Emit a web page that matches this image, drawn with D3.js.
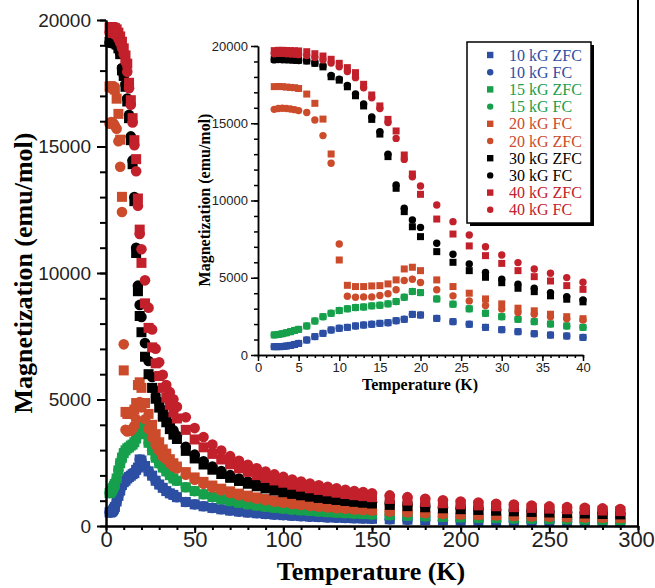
<!DOCTYPE html>
<html>
<head>
<meta charset="utf-8">
<script src="https://cdn.jsdelivr.net/npm/d3@7"></script>
<style>
  body { margin: 0; background: #fff; }
  svg { display: block; font-family: "Liberation Serif", "Times New Roman", serif; }
</style>
</head>
<body>
<script>
// temperatures (K); the inset shows the first 32 points (up to 40 K)
const temps = [2, 2.5, 3, 3.5, 4, 4.5, 5, 6, 7, 8, 9, 10, 11, 12, 13, 14, 15, 16, 17, 18, 19, 20,
  22, 24, 26, 28, 30, 32, 34, 36, 38, 40,
  45, 50, 55, 60, 65, 70, 75, 80, 85, 90, 95, 100, 105, 110, 115, 120, 125, 130, 135, 140, 145, 150,
  160, 170, 180, 190, 200, 210, 220, 230, 240, 250, 260, 270, 280, 290]
const insetCount = 32

// magnetization (emu/mol)
// 10 kG and 15 kG: ZFC and FC lie on top of each other
const m10 = [540, 540, 550, 580, 620, 680, 750, 970, 1190, 1400, 1620, 1730, 1790, 1880, 1940, 1990, 2050, 2090, 2220, 2310, 2630, 2590,
  2370, 2160, 1990, 1790, 1640, 1510, 1380, 1290, 1230, 1140,
  950, 855, 780, 715, 660, 610, 570, 535, 505, 475, 450, 430, 405, 390, 370, 355, 340, 330, 315, 305, 295, 285,
  265, 250, 235, 225, 215, 205, 195, 185, 180, 170, 165, 160, 155, 150]
const m15 = [1300, 1330, 1380, 1440, 1510, 1590, 1660, 1880, 2200, 2480, 2700, 2880, 2990, 3070, 3110, 3180, 3220, 3310, 3460, 3740, 4110, 4040,
  3630, 3290, 2990, 2700, 2480, 2310, 2160, 2010, 1880, 1790,
  1530, 1380, 1255, 1150, 1060, 985, 920, 860, 810, 765, 725, 690, 655, 625, 600, 575, 550, 530, 510, 495, 475, 460,
  430, 405, 385, 365, 345, 330, 315, 300, 290, 275, 265, 255, 245, 240]
const m20fc = [17370, 17380, 17370, 17340, 17320, 17300, 17250, 16890, 16290, 15270, 13010, 6150, 4510, 4430, 4430, 4470, 4490, 4600, 4860, 5570, 5680, 5460,
  4860, 4430, 4000, 3630, 3310, 3030, 2860, 2640, 2480, 2350,
  2130, 1920, 1745, 1600, 1475, 1370, 1280, 1200, 1130, 1065, 1010, 960, 915, 870, 835, 800, 770, 740, 710, 685, 660, 640,
  600, 565, 535, 505, 480, 455, 435, 415, 400, 385, 370, 355, 345, 330]
const m20zfc = [15900, 15950, 15970, 15950, 15920, 15880, 15820, 15700, 15210, 14200, 12410, 7180, 3800, 3740, 3760, 3760, 3850, 3960, 4220, 4820, 4900, 4690,
  4220, 3830, 3500, 3200, 2970, 2750, 2640, 2480, 2350, 2270,
  2030, 1830, 1665, 1525, 1410, 1305, 1220, 1145, 1075, 1015, 965, 915, 870, 830, 795, 760, 730, 705, 680, 655, 630, 610,
  570, 540, 510, 480, 455, 435, 415, 400, 380, 365, 350, 340, 325, 315]
const m30zfc = [19140, 19150, 19140, 19130, 19120, 19100, 19080, 19030, 18880, 18650, 18010, 17790, 17360, 16780, 16120, 15250, 14300, 12840, 10790, 9280, 8300, 7660,
  6690, 6000, 5460, 5030, 4680, 4320, 4100, 3830, 3610, 3440,
  2970, 2670, 2430, 2225, 2055, 1905, 1780, 1670, 1570, 1485, 1405, 1335, 1270, 1215, 1160, 1110, 1070, 1030, 990, 955, 920, 890,
  835, 785, 740, 700, 665, 635, 605, 580, 555, 535, 515, 495, 475, 460]
const m30fc = [19100, 19120, 19110, 19100, 19090, 19070, 19060, 19050, 18900, 18700, 18100, 17850, 17450, 16900, 16250, 15400, 14450, 13000, 11000, 9500, 8740, 8260,
  7230, 6520, 5890, 5350, 4900, 4580, 4320, 4040, 3780, 3570,
  3130, 2820, 2560, 2350, 2170, 2010, 1880, 1760, 1660, 1570, 1480, 1410, 1340, 1280, 1225, 1175, 1130, 1085, 1045, 1005, 970, 940,
  880, 830, 785, 740, 705, 670, 640, 615, 590, 565, 545, 525, 505, 485]
const m40zfc = [19700, 19720, 19720, 19710, 19700, 19690, 19680, 19630, 19500, 19350, 19140, 18880, 18600, 18275, 17520, 16830, 16120, 15250, 14500, 12945, 11715, 10400,
  8800, 7830, 7060, 6430, 5930, 5460, 5070, 4790, 4490, 4250,
  3800, 3420, 3110, 2850, 2630, 2440, 2280, 2140, 2010, 1900, 1800, 1710, 1630, 1555, 1490, 1425, 1370, 1315, 1265, 1220, 1180, 1140,
  1070, 1005, 950, 900, 855, 815, 780, 745, 715, 685, 660, 635, 610, 590]
const m40fc = [19500, 19520, 19520, 19500, 19480, 19460, 19440, 19380, 19250, 19100, 18900, 18650, 18350, 17950, 17300, 16650, 15950, 15050, 14020, 12660, 11540, 10940,
  9710, 8630, 7770, 7010, 6470, 5980, 5570, 5290, 5010, 4710,
  4300, 3870, 3520, 3220, 2980, 2760, 2580, 2420, 2280, 2150, 2040, 1940, 1840, 1760, 1680, 1610, 1550, 1490, 1430, 1380, 1340, 1290,
  1210, 1140, 1075, 1020, 970, 925, 880, 845, 810, 775, 745, 720, 695, 670]

const labels = ['10 kG ZFC', '10 kG FC', '15 kG ZFC', '15 kG FC', '20 kG FC', '20 kG ZFC', '30 kG ZFC', '30 kG FC', '40 kG ZFC', '40 kG FC']
const values = [m10, m10, m15, m15, m20fc, m20zfc, m30zfc, m30fc, m40zfc, m40fc]
const shapes = ['square', 'circle', 'square', 'circle', 'square', 'circle', 'square', 'circle', 'square', 'circle']
const colors = ['#2c4ea3', '#2c4ea3', '#17a04c', '#17a04c', '#cb4b2b', '#cb4b2b', '#000000', '#000000', '#c2202b', '#c2202b']

const series = labels.map((label, i) => ({
  label: label,
  shape: shapes[i],
  color: colors[i],
  points: temps.map((t, j) => ({ t: t, m: values[i][j] }))
}))

const svg = d3.select('body').append('svg')
  .attr('width', 655)
  .attr('height', 588)

function styleAxis(g, lw, fontSize) {
  g.select('.domain').attr('stroke', '#000').attr('stroke-width', lw)
  g.selectAll('.tick line').attr('stroke', '#000').attr('stroke-width', lw)
  g.selectAll('.tick text').attr('fill', '#222').style('font-size', fontSize + 'px')
}

function drawMarkers(g, x, y, n, sq, r) {
  series.forEach(s => {
    let pts = s.points.slice(0, n)
    let sel = g.append('g')
    if (s.shape === 'square') {
      sel.selectAll('rect').data(pts).join('rect')
        .attr('x', d => x(d.t) - sq / 2)
        .attr('y', d => y(d.m) - sq / 2)
        .attr('width', sq)
        .attr('height', sq)
        .attr('fill', s.color)
    } else {
      sel.selectAll('circle').data(pts).join('circle')
        .attr('cx', d => x(d.t))
        .attr('cy', d => y(d.m))
        .attr('r', r)
        .attr('fill', s.color)
    }
  })
}

// ---- main plot ----
let x = d3.scaleLinear().domain([0, 300]).range([106, 638])
let y = d3.scaleLinear().domain([0, 20000]).range([526, 20])

drawMarkers(svg.append('g'), x, y, temps.length, 10, 5.3)

svg.append('g')
  .attr('transform', 'translate(0,526)')
  .call(d3.axisBottom(x).tickValues(d3.range(0, 301, 10)).tickSize(4).tickSizeOuter(0).tickFormat(''))
  .call(g => styleAxis(g, 2, 22))
svg.append('g')
  .attr('transform', 'translate(0,526)')
  .call(d3.axisBottom(x).tickValues(d3.range(0, 301, 50)).tickSize(7).tickSizeOuter(0).tickPadding(-2))
  .call(g => styleAxis(g, 2, 22))
  .call(g => g.selectAll('.tick text').filter(d => d === 300).attr('dx', -2))

svg.append('g')
  .attr('transform', 'translate(106,0)')
  .call(d3.axisLeft(y).tickValues(d3.range(0, 20001, 1000)).tickSize(6).tickSizeOuter(0).tickFormat(''))
  .call(g => styleAxis(g, 2, 19))
svg.append('g')
  .attr('transform', 'translate(106,0)')
  .call(d3.axisLeft(y).tickValues(d3.range(0, 20001, 5000)).tickSize(9).tickSizeOuter(0).tickPadding(6).tickFormat(d3.format('d')))
  .call(g => styleAxis(g, 2, 19))

svg.append('line')
  .attr('x1', 638).attr('x2', 638)
  .attr('y1', 0).attr('y2', 527)
  .attr('stroke', '#000')
  .attr('stroke-width', 2)

svg.append('text')
  .attr('x', 371)
  .attr('y', 580)
  .attr('text-anchor', 'middle')
  .style('font-size', '26px')
  .style('font-weight', 'bold')
  .text('Temperature (K)')

svg.append('text')
  .attr('transform', 'translate(32,273)rotate(-90)')
  .attr('text-anchor', 'middle')
  .style('font-size', '26px')
  .style('font-weight', 'bold')
  .text('Magnetization (emu/mol)')

// ---- inset ----
let ix = d3.scaleLinear().domain([0, 40]).range([258, 583])
let iy = d3.scaleLinear().domain([0, 20000]).range([355, 46])

drawMarkers(svg.append('g'), ix, iy, insetCount, 7, 3.7)

svg.append('g')
  .attr('transform', 'translate(0,355)')
  .call(d3.axisBottom(ix).tickValues(d3.range(0, 41, 1)).tickSize(3).tickSizeOuter(0).tickFormat(''))
  .call(g => styleAxis(g, 1.5, 13))
svg.append('g')
  .attr('transform', 'translate(0,355)')
  .call(d3.axisBottom(ix).tickValues(d3.range(0, 41, 5)).tickSize(6).tickSizeOuter(0).tickPadding(2))
  .call(g => styleAxis(g, 1.5, 13))

svg.append('g')
  .attr('transform', 'translate(258,0)')
  .call(d3.axisLeft(iy).tickValues(d3.range(0, 20001, 1000)).tickSize(4).tickSizeOuter(0).tickFormat(''))
  .call(g => styleAxis(g, 1.5, 13))
svg.append('g')
  .attr('transform', 'translate(258,0)')
  .call(d3.axisLeft(iy).tickValues(d3.range(0, 20001, 5000)).tickSize(7).tickSizeOuter(0).tickPadding(3).tickFormat(d3.format('d')))
  .call(g => styleAxis(g, 1.5, 13))

svg.append('text')
  .attr('x', 420)
  .attr('y', 390)
  .attr('text-anchor', 'middle')
  .style('font-size', '16px')
  .style('font-weight', 'bold')
  .text('Temperature (K)')

svg.append('text')
  .attr('transform', 'translate(210,200)rotate(-90)')
  .attr('text-anchor', 'middle')
  .style('font-size', '16px')
  .style('font-weight', 'bold')
  .text('Magnetization (emu/mol)')

// ---- legend ----
let legend = svg.append('g').attr('transform', 'translate(467,42)')
legend.append('rect')
  .attr('x', 3).attr('y', 3)
  .attr('width', 124).attr('height', 181)
  .attr('fill', '#000')
legend.append('rect')
  .attr('width', 124).attr('height', 181)
  .attr('fill', '#fff')
  .attr('stroke', '#000')
  .attr('stroke-width', 1.5)

series.forEach((s, i) => {
  let ly = 13 + i * 17.2
  if (s.shape === 'square') {
    legend.append('rect')
      .attr('x', 20).attr('y', ly - 3.2)
      .attr('width', 6.4).attr('height', 6.4)
      .attr('fill', s.color)
  } else {
    legend.append('circle')
      .attr('cx', 23.2).attr('cy', ly)
      .attr('r', 3.2)
      .attr('fill', s.color)
  }
  legend.append('text')
    .attr('x', 42)
    .attr('y', ly + 5.5)
    .attr('fill', s.color)
    .style('font-size', '16px')
    .text(s.label)
})
</script>
</body>
</html>
